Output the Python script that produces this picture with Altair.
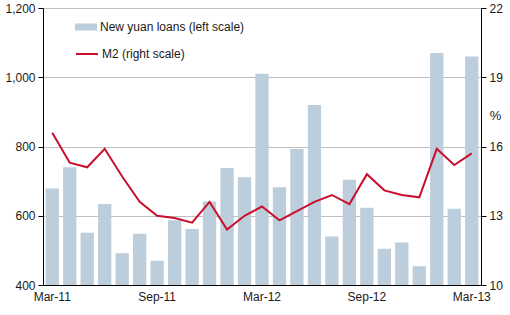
import altair as alt
import pandas as pd

months = ["Mar-11","Apr-11","May-11","Jun-11","Jul-11","Aug-11","Sep-11","Oct-11","Nov-11","Dec-11",
          "Jan-12","Feb-12","Mar-12","Apr-12","May-12","Jun-12","Jul-12","Aug-12","Sep-12","Oct-12",
          "Nov-12","Dec-12","Jan-13","Feb-13","Mar-13"]
loans = [679, 740, 551, 634, 492, 548, 470, 587, 562, 641,
         738, 711, 1010, 682, 793, 920, 540, 704, 623, 505,
         523, 454, 1070, 620, 1060]
m2 = [16.6, 15.3, 15.1, 15.9, 14.7, 13.6, 13.0, 12.9, 12.7, 13.6,
      12.4, 13.0, 13.4, 12.8, 13.2, 13.6, 13.9, 13.5, 14.8, 14.1,
      13.9, 13.8, 15.9, 15.2, 15.7]
x_labels = ["Mar-11", "Sep-11", "Mar-12", "Sep-12", "Mar-13"]
loan_name = "New yuan loans (left scale)"
m2_name = "M2 (right scale)"

df = pd.DataFrame({"month": months, "loans": loans, "m2": m2,
                   "s1": loan_name, "s2": m2_name})

FONT = "Liberation Sans"
xenc = alt.X("month:N", sort=months,
             scale=alt.Scale(paddingInner=0.24, paddingOuter=0.15),
             axis=alt.Axis(values=x_labels, title=None, ticks=False, labelAngle=0,
                           domainColor="#000000", labelPadding=6, labelColor="#1a1a1a",
                           labelFontSize=12, labelFont=FONT, grid=False))

bars = alt.Chart(df).mark_bar(color="#bccddb", clip=True).encode(
    x=xenc,
    y=alt.Y("loans:Q", scale=alt.Scale(domain=[400, 1200], zero=False),
            axis=alt.Axis(values=[400, 600, 800, 1000, 1200], format=",d", title=None,
                          grid=True, gridColor="#bfbfbf", domainColor="#000000",
                          tickColor="#000000", tickSize=5, labelPadding=3,
                          labelColor="#1a1a1a", labelFontSize=12, labelFont=FONT)),
    color=alt.Color("s1:N", scale=alt.Scale(domain=[loan_name], range=["#bccddb"]),
                    legend=alt.Legend(orient="none", legendX=32, legendY=8, title=None,
                                      symbolType="M-1,-0.32L1,-0.32L1,0.32L-1,0.32Z",
                                      symbolSize=484, symbolStrokeWidth=0,
                                      labelFontSize=12, labelFont=FONT, labelColor="#1a1a1a",
                                      padding=0, labelOffset=3)),
)

line = alt.Chart(df).mark_line(color="#c8102e", strokeWidth=2).encode(
    x=xenc,
    y=alt.Y("m2:Q", scale=alt.Scale(domain=[10, 22]),
            axis=alt.Axis(orient="right", values=[10, 13, 16, 19, 22], title="%",
                          titleAngle=0, titleX=14, titleY=107, titleAlign="center",
                          titleBaseline="middle", titleFontSize=13, titleFont=FONT,
                          titleFontWeight="normal", titleColor="#1a1a1a",
                          grid=False, domainColor="#000000", tickColor="#000000",
                          tickSize=5, labelPadding=3, labelColor="#1a1a1a",
                          labelFontSize=12, labelFont=FONT)),
    stroke=alt.Stroke("s2:N", scale=alt.Scale(domain=[m2_name], range=["#c8102e"]),
                      legend=alt.Legend(orient="none", legendX=32, legendY=34, title=None,
                                        symbolType="M-1,0L1,0", symbolSize=484,
                                        symbolStrokeWidth=2,
                                        labelFontSize=12, labelFont=FONT, labelColor="#1a1a1a",
                                        padding=0, labelOffset=3)),
)

chart = alt.layer(bars, line).resolve_scale(y="independent", color="independent").properties(
    width=438, height=277,
    autosize=alt.AutoSizeParams(type="none"),
    padding={"left": 43, "top": 8, "right": 29, "bottom": 30},
).configure_view(stroke=None).configure(background="white")

chart.save("out.html", embed_options={"renderer": "svg", "actions": False})
